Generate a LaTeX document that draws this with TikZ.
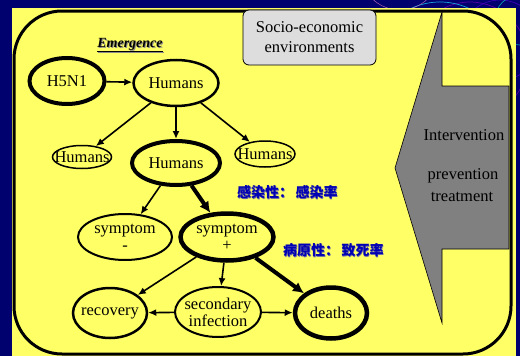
\documentclass[tikz,border=0pt]{standalone}
\usepackage{fontspec}
\setmainfont{Liberation Serif}
\newfontfamily\cjk{Noto Sans CJK SC}
\usetikzlibrary{shapes.geometric,arrows.meta}
\definecolor{navy}{HTML}{00006E}
\definecolor{bgyellow}{HTML}{FFFF66}
\definecolor{arrowgray}{HTML}{808080}
\definecolor{boxgray}{HTML}{DDDDDD}
\definecolor{cjkblue}{HTML}{0000B4}
\begin{document}
\begin{tikzpicture}[x=1pt,y=-1pt,
  txt/.style={font=\fontsize{16.5}{17}\selectfont, align=center, inner sep=0pt},
  el/.style={ellipse, draw, inner sep=0pt},
  thinarr/.style={line width=1.6pt, -{Latex[length=8pt,width=7pt]}},
  thickarr/.style={line width=4pt, -{Latex[length=11pt,width=11pt]}},
  cjktxt/.style={font=\cjk\bfseries\fontsize{14}{15}\selectfont, text=cjkblue, inner sep=0pt},
  cjkshadow/.style={font=\cjk\bfseries\fontsize{14}{15}\selectfont, text=navy!60, inner sep=0pt}
]
\useasboundingbox (0,0) rectangle (520,356);
% background
\fill[navy] (0,0) rectangle (520,356);
\begin{scope}
  \clip (330,0) rectangle (520,356);
  \draw[violet!70!blue, line width=0.7pt] (470,60) circle (58);
  \draw[cyan!80!teal, line width=0.7pt] (440,70) circle (68);
  \draw[blue!50!violet, line width=0.6pt] (500,40) circle (40);
  \draw[teal!60!cyan, line width=0.6pt] (520,20) circle (25);
  \draw[violet!60, line width=0.5pt] (400,-30) circle (40);
\end{scope}
\fill[bgyellow] (12,8) rectangle (516,356);
% gray intervention arrow
\draw[fill=arrowgray, line width=0.6pt] (442,12) -- (395,168) -- (442,323) -- (442,249) -- (509,249) -- (509,86) -- (442,86) -- cycle;
\node[txt] (interv) at (464,135) {Intervention};
\node[txt] (prev) at (463,176) {prevention};
\node[txt] (treat) at (462,197) {treatment};
% big rounded frame
\draw[line width=3pt, rounded corners=48pt] (14,11) rectangle (511,354);
% socio box
\node[draw, fill=boxgray, rounded corners=6pt, line width=0.8pt, minimum width=133pt, minimum height=55pt, font=\fontsize{16.5}{20}\selectfont, align=center, inner sep=0pt] (socio) at (309.5,37.5) {Socio-economic\\environments};
% Emergence
\node[font=\bfseries\itshape\fontsize{14}{15}\selectfont, text=black!45, inner sep=0pt] (emshadow) at (131,46) {\underline{Emergence}};
\node[font=\bfseries\itshape\fontsize{14}{15}\selectfont, inner sep=0pt] (em) at (130,45) {\underline{Emergence}};
% nodes
\node[el, minimum width=75pt, minimum height=46pt, line width=4pt, label={[txt]center:H5N1}] (h5n1) at (67,81) {};
\node[el, minimum width=85pt, minimum height=46pt, line width=2.5pt, label={[txt]center:Humans}] (hum1) at (176,83) {};
\node[el, minimum width=59pt, minimum height=23pt, line width=1.5pt, label={[txt]center:Humans}] (huml) at (82,157) {};
\node[el, minimum width=88pt, minimum height=44pt, line width=4pt, label={[txt]center:Humans}] (humm) at (176,163) {};
\node[el, minimum width=60pt, minimum height=26pt, line width=1.5pt, label={[txt]center:Humans}] (humr) at (265,154) {};
\node[el, minimum width=94pt, minimum height=46pt, line width=2pt, label={[txt]center:symptom\\-}] (symn) at (125,237) {};
\node[el, minimum width=93pt, minimum height=47pt, line width=4.5pt, label={[txt]center:symptom\\+}] (symp) at (227,237) {};
\node[el, minimum width=74pt, minimum height=50pt, line width=2.5pt, label={[txt]center:recovery}] (rec) at (110,313) {};
\node[el, minimum width=86pt, minimum height=50pt, line width=2pt, label={[txt]center:secondary\\infection}] (sec) at (218,312) {};
\node[el, minimum width=72pt, minimum height=51pt, line width=4.5pt, label={[txt]center:deaths}] (death) at (331,313) {};
% chinese labels
\node[cjkshadow, anchor=west] (c1s) at (237.7,192.7) {感染性：\,感染率};
\node[cjktxt, anchor=west] (c1) at (237,192) {感染性：\,感染率};
\node[cjkshadow, anchor=west] (c2s) at (283.7,250.7) {病原性：\,致死率};
\node[cjktxt, anchor=west] (c2) at (283,250) {病原性：\,致死率};
% edges
\draw[thinarr] (h5n1) -- (hum1);
\draw[thinarr] (hum1) -- (huml);
\draw[thinarr] (hum1) -- (humm);
\draw[thinarr] (hum1) -- (humr);
\draw[thinarr] (humm) -- (symn);
\draw[thickarr] (humm) -- (symp);
\draw[thinarr] (symp) -- (rec);
\draw[thinarr] (symp) -- (sec);
\draw[thickarr] (symp) -- (death);
\draw[thinarr] (sec) -- (rec);
\draw[thinarr] (sec) -- (death);
\end{tikzpicture}
\end{document}
